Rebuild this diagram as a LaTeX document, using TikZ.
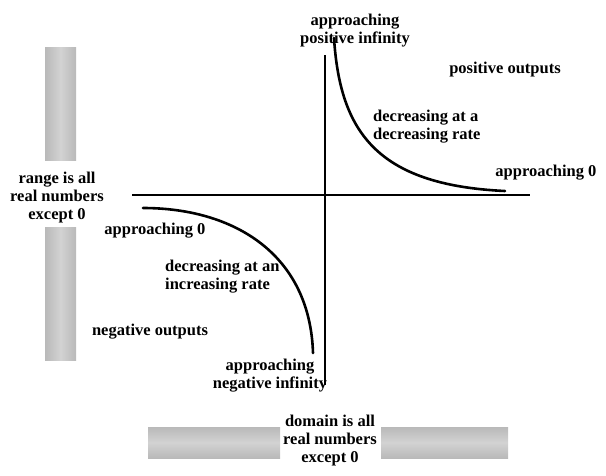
\documentclass[tikz,border=0pt]{standalone}
\usepackage{fontspec}
\setmainfont{Liberation Serif}
\begin{document}
\begin{tikzpicture}[x=1pt,y=-1pt,
  lbl/.style={font=\bfseries\fontsize{16.5}{18}\selectfont, inner sep=1pt, align=center},
  axisline/.style={line width=2.6pt},
  curveline/.style={line width=2.6pt, line cap=round},
  vbar/.style={left color=gray!55, right color=gray!55, middle color=gray!35},
  hbar/.style={top color=gray!55, bottom color=gray!55, middle color=gray!35}]
\useasboundingbox (0,0) rectangle (606,475);

\path[vbar] (45,47) rectangle (76,160);
\path[vbar] (45,227) rectangle (76,360);
\path[hbar] (148,427) rectangle (280,458);
\path[hbar] (381,427) rectangle (508,458);

\coordinate (yTop) at (325,55);
\coordinate (yBot) at (325,385);
\coordinate (xLeft) at (132,195);
\coordinate (xRight) at (530,195);
\draw[axisline] (yTop) -- (yBot);
\draw[axisline] (xLeft) -- (xRight);

\coordinate (posStart) at (334,38);
\coordinate (posEnd) at (505,191);
\draw[curveline] (posStart) .. controls (340,130) and (375,185) .. (posEnd);
\coordinate (negStart) at (143,208);
\coordinate (negEnd) at (313,353);
\draw[curveline] (negStart) .. controls (235,208) and (310,255) .. (negEnd);

\node[lbl] (posInf) at (355,31) {approaching\\positive infinity};
\node[lbl] (posOut) at (505,70) {positive outputs};
\node[lbl, align=left, anchor=west] (decDec) at (372,127) {decreasing at a\\decreasing rate};
\node[lbl] (posZero) at (546,173) {approaching 0};
\node[lbl] (range) at (57,198) {range is all\\real numbers\\except 0};
\node[lbl] (negZero) at (155,231) {approaching 0};
\node[lbl, align=left, anchor=west] (decInc) at (164,277) {decreasing at an\\increasing rate};
\node[lbl] (negOut) at (150,332) {negative outputs};
\node[lbl] (negInf) at (270,376) {approaching\\negative infinity};
\node[lbl] (domain) at (330,441) {domain is all\\real numbers\\except 0};
\end{tikzpicture}
\end{document}
